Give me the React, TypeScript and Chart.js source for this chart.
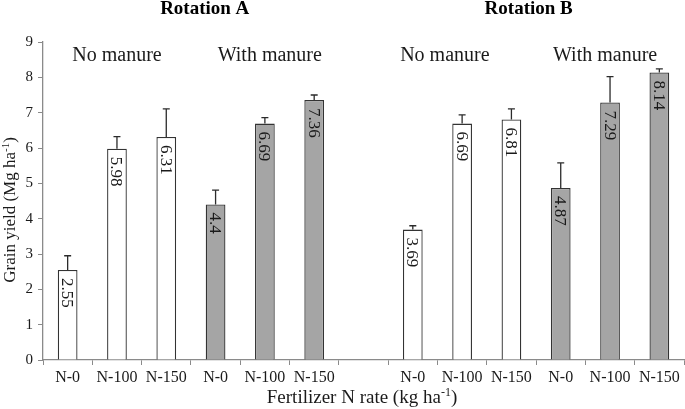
import React, { useEffect, useRef } from "react";
import { Chart, registerables } from "chart.js";

Chart.register(...registerables);

const categories = ["N-0", "N-100", "N-150", "N-0", "N-100", "N-150", "", "N-0", "N-100", "N-150", "N-0", "N-100", "N-150"];
const yields = [2.55, 5.98, 6.31, 4.4, 6.69, 7.36, null, 3.69, 6.69, 6.81, 4.87, 7.29, 8.14];
const errorUpper = [0.4, 0.34, 0.8, 0.41, 0.17, 0.14, null, 0.11, 0.25, 0.3, 0.71, 0.73, 0.1];
const withManure = [false, false, false, true, true, true, false, false, false, false, true, true, true];
const yTicks = [0, 1, 2, 3, 4, 5, 6, 7, 8, 9];

const rotationLabels = ["Rotation A", "Rotation B"];
const rotationPos = [2.78, 9.35];
const groupLabels = ["No manure", "With manure", "No manure", "With manure"];
const groupPos = [1.0, 4.1, 7.65, 10.9];

const SERIF = '"Liberation Serif", "Times New Roman", serif';

function drawSupText(ctx: CanvasRenderingContext2D, parts: [string, boolean][], size: number, x: number, y: number) {
  const widths = parts.map(([t, sup]) => {
    ctx.font = `${sup ? Math.round(size * 0.62) : size}px ${SERIF}`;
    return ctx.measureText(t).width;
  });
  const total = widths.reduce((a, b) => a + b, 0);
  let cx = x - total / 2;
  ctx.textAlign = "left";
  ctx.textBaseline = "alphabetic";
  parts.forEach(([t, sup], i) => {
    ctx.font = `${sup ? Math.round(size * 0.62) : size}px ${SERIF}`;
    ctx.fillText(t, cx, sup ? y - size * 0.38 : y);
    cx += widths[i];
  });
}

const overlayPlugin = {
  id: "overlay",
  afterDatasetsDraw(chart: any) {
    const ctx = chart.ctx as CanvasRenderingContext2D;
    const meta = chart.getDatasetMeta(0);
    const yScale = chart.scales.y;
    ctx.save();
    ctx.strokeStyle = "#2b2b2b";
    ctx.lineWidth = 1.3;
    meta.data.forEach((bar: any, i: number) => {
      const v = yields[i];
      const e = errorUpper[i];
      if (v == null || e == null) return;
      const x = bar.x;
      const y0 = yScale.getPixelForValue(v);
      const y1 = yScale.getPixelForValue(v + e);
      ctx.beginPath();
      ctx.moveTo(x, y0);
      ctx.lineTo(x, y1);
      ctx.moveTo(x - 3.5, y1);
      ctx.lineTo(x + 3.5, y1);
      ctx.stroke();
    });
    ctx.fillStyle = "#1a1a1a";
    ctx.font = `17px ${SERIF}`;
    meta.data.forEach((bar: any, i: number) => {
      const v = yields[i];
      if (v == null) return;
      ctx.save();
      ctx.translate(bar.x, bar.y + 8);
      ctx.rotate(Math.PI / 2);
      ctx.textAlign = "left";
      ctx.textBaseline = "middle";
      ctx.fillText(String(v), 0, 1);
      ctx.restore();
    });
    ctx.restore();
  },
  afterDraw(chart: any) {
    const ctx = chart.ctx as CanvasRenderingContext2D;
    const area = chart.chartArea;
    const step = (area.right - area.left) / categories.length;
    const px = (p: number) => area.left + (p + 0.5) * step;
    ctx.save();
    ctx.fillStyle = "#000";
    ctx.textAlign = "center";
    ctx.textBaseline = "alphabetic";
    ctx.font = `bold 19px ${SERIF}`;
    rotationLabels.forEach((t, i) => ctx.fillText(t, px(rotationPos[i]), 14));
    ctx.font = `20px ${SERIF}`;
    ctx.fillStyle = "#1a1a1a";
    groupLabels.forEach((t, i) => ctx.fillText(t, px(groupPos[i]), 60.5));
    drawSupText(ctx, [["Fertilizer N rate (kg ha", false], ["-1", true], [")", false]], 19, 362, 403);
    ctx.save();
    ctx.translate(15, 210);
    ctx.rotate(-Math.PI / 2);
    drawSupText(ctx, [["Grain yield (Mg ha", false], ["-1", true], [")", false]], 17, 0, 0);
    ctx.restore();
    ctx.restore();
  },
};

export default function App() {
  const ref = useRef<HTMLCanvasElement>(null);
  useEffect(() => {
    document.body.style.margin = "0";
    const chart = new Chart(ref.current!, {
      type: "bar",
      data: {
        labels: categories,
        datasets: [
          {
            data: yields as any,
            backgroundColor: withManure.map((m) => (m ? "#a5a5a5" : "#ffffff")),
            borderColor: "#333333",
            borderWidth: 1.3,
            barPercentage: 0.4,
            categoryPercentage: 1,
          },
        ],
      },
      options: {
        responsive: false,
        animation: false,
        layout: { padding: { left: 0, right: 1, top: 42, bottom: 0 } },
        plugins: { legend: { display: false }, tooltip: { enabled: false }, title: { display: false } },
        scales: {
          x: {
            afterFit: (s: any) => {
              s.height = 49;
            },
            grid: { display: true, drawOnChartArea: false, drawTicks: true, tickLength: 5, offset: true, color: "#8a8a8a", lineWidth: 1 },
            border: { display: true, color: "#8a8a8a", width: 1.3 },
            ticks: { color: "#1a1a1a", font: { family: SERIF, size: 16 }, padding: 3, maxRotation: 0, autoSkip: false },
          },
          y: {
            min: 0,
            max: 9,
            afterFit: (s: any) => {
              s.width = 43;
            },
            afterBuildTicks: (s: any) => {
              s.ticks = yTicks.map((v) => ({ value: v }));
            },
            grid: { display: true, drawOnChartArea: false, drawTicks: true, tickLength: 5, color: "#8a8a8a" },
            border: { display: true, color: "#8a8a8a", width: 1.3 },
            ticks: { color: "#1a1a1a", font: { family: SERIF, size: 15 }, padding: 5 },
          },
        },
      },
      plugins: [overlayPlugin],
    });
    return () => chart.destroy();
  }, []);
  return (
    <div style={{ position: "absolute", left: 0, top: 0, width: 685, height: 409, background: "#fff" }}>
      <canvas ref={ref} width={685} height={409} />
    </div>
  );
}
